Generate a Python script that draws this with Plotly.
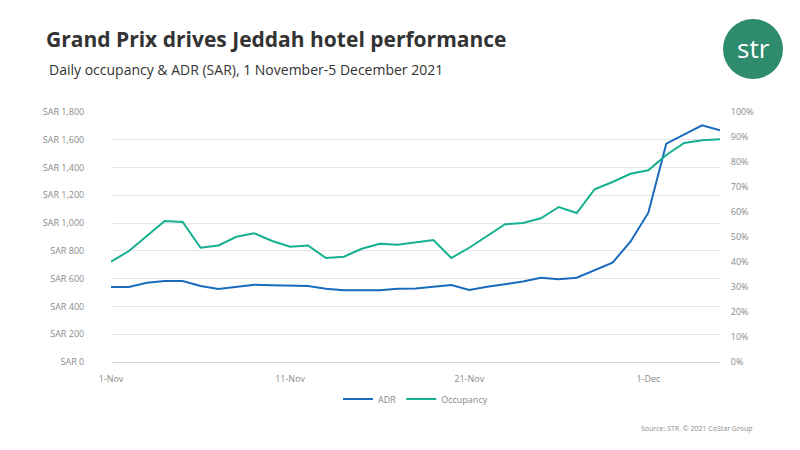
import pandas as pd
import plotly.graph_objs as go

dates = pd.date_range("2021-11-01", "2021-12-05", freq="D")

adr = [540, 540, 571, 583, 583, 547, 526, 542, 557, 552,
       547, 547, 528, 516, 516, 516, 528, 530, 542, 554,
       518, 542, 560, 580, 607, 596, 607, 662, 715, 866,
       1075, 1572, 1639, 1704, 1668]

occupancy = [40.1, 44.4, 50.4, 56.4, 56.0, 45.7, 46.6, 50.1, 51.5, 48.4,
             46.1, 46.6, 41.6, 42.1, 45.3, 47.3, 46.9, 47.7, 48.8, 41.6,
             45.7, 50.4, 55.1, 55.6, 57.5, 62.0, 59.6, 69.1, 72.0, 75.3,
             76.7, 82.8, 87.6, 88.7, 89.1]

left_ticks = list(range(0, 1801, 200))
right_ticks = list(range(0, 101, 10))

BLUE = "#1a6bbd"
TEAL = "#14b08f"
GREY = "#8a8a8a"

fig = go.Figure()
fig.add_trace(go.Scatter(x=dates, y=adr, name="ADR", mode="lines",
                         line=dict(color=BLUE, width=2)))
fig.add_trace(go.Scatter(x=dates, y=occupancy, name="Occupancy", mode="lines",
                         line=dict(color=TEAL, width=2), yaxis="y2"))

fig.update_layout(
    width=800, height=450,
    paper_bgcolor="white", plot_bgcolor="white",
    margin=dict(l=103, r=88, t=104, b=96),
    font=dict(family="Open Sans, sans-serif", color=GREY, size=9),
    xaxis=dict(range=[dates[0], dates[-1]], tickvals=[dates[0], dates[10], dates[20], dates[30]],
               tickformat="%-d-%b", showgrid=False, showline=True, linecolor="#d9d9d9",
               ticks="outside", ticklen=8, tickcolor="white", tickfont=dict(size=9, color=GREY)),
    yaxis=dict(range=[0, 1800], tickvals=left_ticks,
               ticktext=[f"SAR {v:,}" for v in left_ticks],
               ticks="outside", ticklen=24, tickcolor="white",
               gridcolor="#e6e6e6", zeroline=False, tickfont=dict(size=9, color=GREY)),
    yaxis2=dict(range=[0, 100], tickvals=right_ticks,
                ticktext=[f"{v}%" for v in right_ticks], overlaying="y", side="right",
                ticks="outside", ticklen=8, tickcolor="white",
                showgrid=False, zeroline=False, tickfont=dict(size=9, color=GREY)),
    legend=dict(orientation="h", x=0.5, xanchor="center", y=-0.09, yanchor="top",
                font=dict(size=9, color=GREY)),
    showlegend=True,
)

fig.add_annotation(text="<b>Grand Prix drives Jeddah hotel performance</b>", xref="paper", yref="paper",
                   x=-67 / 609, y=1 + 73 / 250, xanchor="left", yanchor="middle", showarrow=False,
                   font=dict(size=21, color="#333333"))
fig.add_annotation(text="Daily occupancy & ADR (SAR), 1 November-5 December 2021", xref="paper", yref="paper",
                   x=-64 / 609, y=1 + 43 / 250, xanchor="left", yanchor="middle", showarrow=False,
                   font=dict(size=14, color="#333333"))
fig.add_annotation(text="Source: STR. © 2021 CoStar Group", xref="paper", yref="paper",
                   x=1 + 35 / 609, y=-66 / 250, xanchor="right", yanchor="middle", showarrow=False,
                   font=dict(size=7, color=GREY))

# logo
fig.add_shape(type="circle", xref="paper", yref="paper",
              x0=1 + 3 / 609, x1=1 + 63 / 609, y0=1 + 33 / 250, y1=1 + 93 / 250,
              fillcolor="#2e8b6e", line=dict(width=0))
fig.add_annotation(text="str", xref="paper", yref="paper",
                   x=1 + 33 / 609, y=1 + 64 / 250, xanchor="center", yanchor="middle", showarrow=False,
                   font=dict(size=26, color="white"))

fig.write_html("out.html")
